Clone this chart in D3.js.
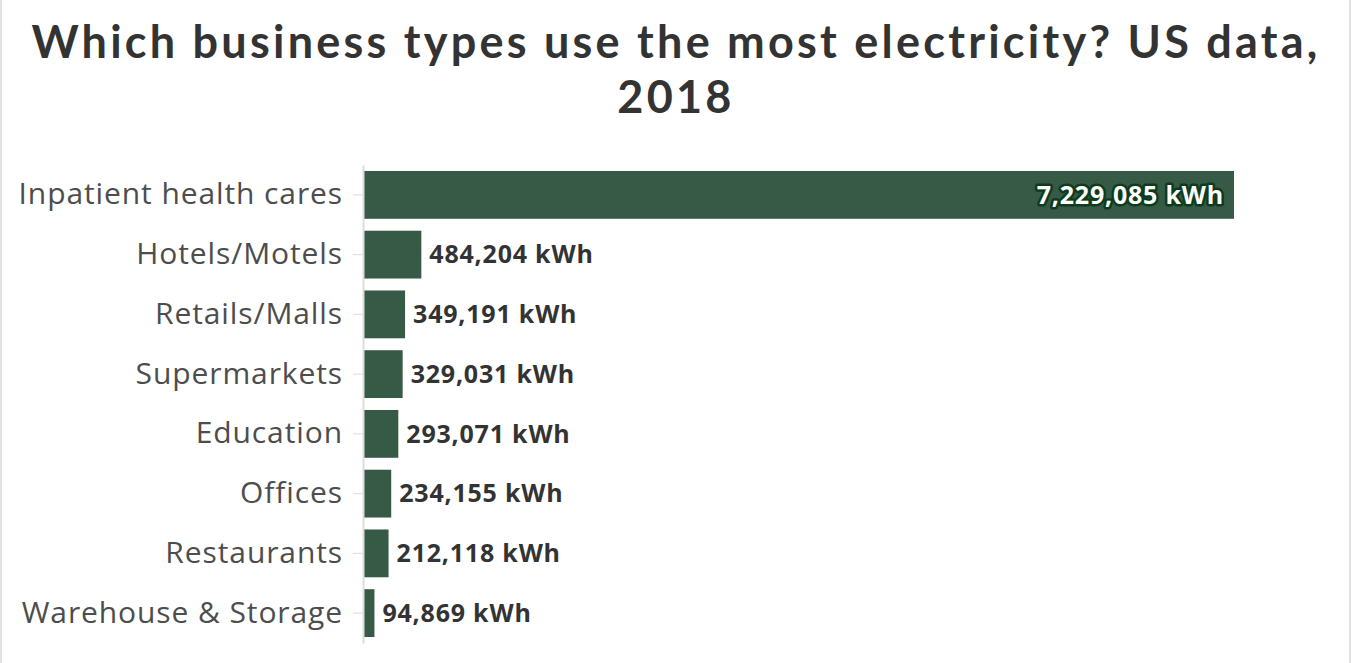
<!DOCTYPE html>
<html lang="en">
    <head>
        <meta charset="utf-8">
        <title>Business electricity use</title>
        <script type="text/javascript" src="https://d3js.org/d3.v7.min.js"></script>

        <style type="text/css">
            body {
                margin: 0;
                background-color: #ffffff;
            }

            .title {
                font-family: Lato, sans-serif;
                font-weight: bold;
                font-size: 45px;
                fill: #333333;
            }

            .y.axis text {
                font-family: "Open Sans", sans-serif;
                font-size: 30px;
                letter-spacing: 0.9px;
                fill: #4d4d4d;
            }

            .y.axis .tick line {
                stroke: #dddddd;
            }

            .y.axis path {
                stroke: #dddddd;
                stroke-width: 2px;
            }

            .value_labels {
                font-family: "Open Sans", sans-serif;
                font-size: 25px;
                letter-spacing: 0.8px;
                font-weight: bold;
                fill: #333333;
            }

            .value_labels.inside {
                fill: #ffffff;
                stroke: #0d3b1e;
                stroke-width: 5px;
                paint-order: stroke;
                stroke-linejoin: round;
            }
        </style>
    </head>

    <body>
        <svg width="1352" height="663" id="chart"></svg>

        <script type="text/javascript">

            // data
            const categories = ["Inpatient health cares", "Hotels/Motels", "Retails/Malls", "Supermarkets",
                                "Education", "Offices", "Restaurants", "Warehouse & Storage"];
            const values = [7229085, 484204, 349191, 329031, 293071, 234155, 212118, 94869];
            const titleLines = ["Which business types use the most electricity? US data,", "2018"];

            const dataset = categories.map((c, i) => ({ name: c, value: values[i] }));

            const w = 1352;
            const h = 663;
            const left = 363;
            const svg = d3.select("#chart");

            // light frame
            svg.append("rect")
                .attr("x", 1)
                .attr("y", -2)
                .attr("width", w - 3)
                .attr("height", h + 4)
                .attr("fill", "none")
                .attr("stroke", "#e2e2e2")
                .attr("stroke-width", 2);

            // title, letter-spaced to span the width
            const title = svg.append("g");
            titleLines.forEach(function (t, i) {
                title.append("text")
                    .attr("class", "title")
                    .attr("x", w / 2)
                    .attr("y", 58 + i * 55)
                    .attr("text-anchor", "middle")
                    .text(t);
            });
            const firstLine = title.select("text").node();
            const spacing = (1286 - firstLine.getComputedTextLength()) / (titleLines[0].length - 1);
            title.selectAll("text").style("letter-spacing", spacing + "px");

            const xScale = d3.scaleLinear()
                            .domain([0, d3.max(values)])
                            .range([left, 1234]);

            const yScale = d3.scaleBand()
                            .domain(categories)
                            .range([165, 643])
                            .paddingInner(0.2)
                            .paddingOuter(0.1);

            // bars
            svg.selectAll("rect.bar")
                .data(dataset)
                .enter()
                .append("rect")
                .attr("class", "bar")
                .attr("x", left)
                .attr("y", d => yScale(d.name))
                .attr("width", d => xScale(d.value) - left)
                .attr("height", yScale.bandwidth())
                .style("fill", "#365a45");

            // y axis
            const leftAxis = d3.axisLeft(yScale).tickSize(10).tickPadding(10).tickSizeOuter(0);
            svg.append("g")
                .attr("class", "y axis")
                .attr("transform", "translate(" + left + ",0)")
                .call(leftAxis);

            // value labels
            const fmt = d3.format(",");
            svg.selectAll("text.value_labels")
                .data(dataset)
                .enter()
                .append("text")
                .attr("class", (d, i) => i === 0 ? "value_labels inside" : "value_labels")
                .attr("x", (d, i) => i === 0 ? xScale(d.value) - 10 : xScale(d.value) + 8)
                .attr("y", d => yScale(d.name) + yScale.bandwidth() / 2)
                .attr("dy", "0.35em")
                .attr("text-anchor", (d, i) => i === 0 ? "end" : "start")
                .text(d => fmt(d.value) + " kWh");

        </script>
    </body>
</html>
